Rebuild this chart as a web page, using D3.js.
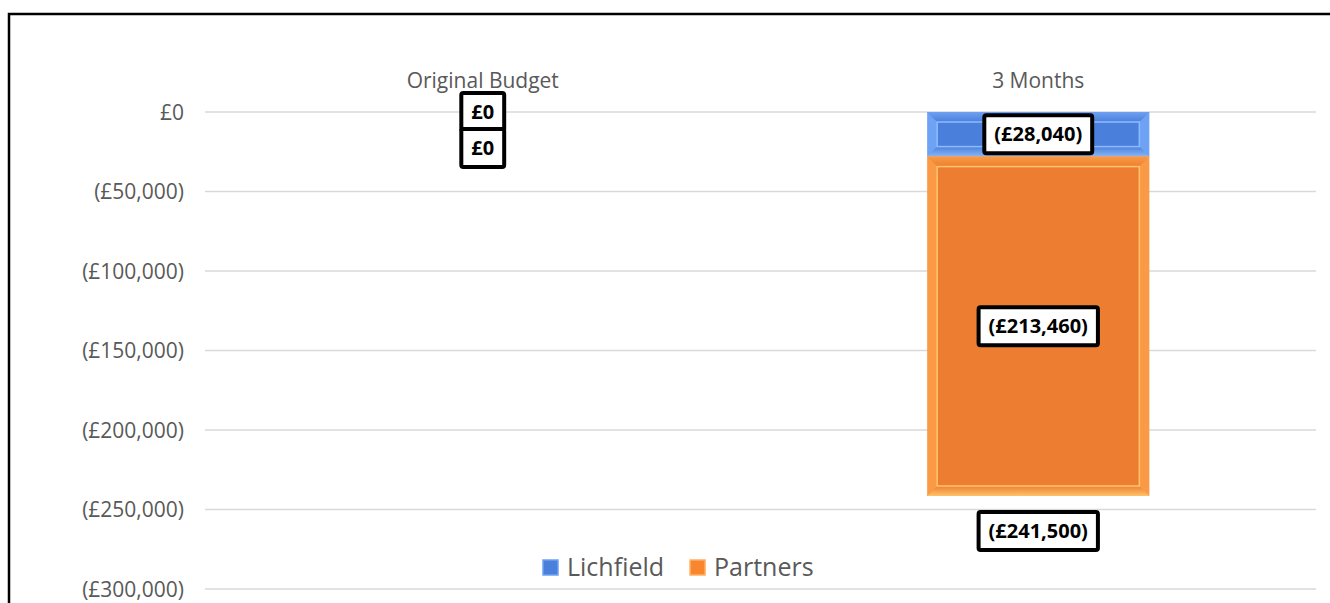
<!DOCTYPE html>
<html><head><meta charset="utf-8">
<script src="https://cdn.jsdelivr.net/npm/d3@7"></script>
<style>body{margin:0;background:#fff;}</style>
</head><body>
<svg id="c" width="1330" height="603"></svg>
<script>
const categories = ["Original Budget", "3 Months"];
const lichfield = [0, -28040];
const partners = [0, -213460];
const totals = [null, -241500];
const yTicks = [0, -50000, -100000, -150000, -200000, -250000, -300000];
const seriesNames = ["Lichfield", "Partners"];

const FONT = "'Open Sans','Noto Sans',sans-serif";
const svg = d3.select("#c");
const x = d3.scaleBand().domain(categories).range([205, 1316]).paddingInner(0).paddingOuter(0);
const y = d3.scaleLinear().domain([0, -300000]).range([112, 589]);
const fmt = v => v === 0 ? "£0" : (v < 0 ? "(£" + d3.format(",")(-v) + ")" : "£" + d3.format(",")(v));

// frame
svg.append("rect").attr("x", 9).attr("y", 14).attr("width", 1340).attr("height", 620)
  .attr("fill", "none").attr("stroke", "#000").attr("stroke-width", 2.5);

// gridlines
svg.append("g").selectAll("line").data(yTicks).join("line")
  .attr("x1", 205).attr("x2", 1316).attr("y1", d => y(d)).attr("y2", d => y(d))
  .attr("stroke", "#d9d9d9").attr("stroke-width", 1.5);

// y axis
const ya = svg.append("g").attr("transform", "translate(184,0)")
  .call(d3.axisLeft(y).tickValues(yTicks).tickSize(0).tickPadding(0).tickFormat(fmt));
ya.select(".domain").remove();
ya.selectAll("text").attr("fill", "#595959").attr("font-size", 21).attr("dy", "0.35em")
  .attr("font-family", FONT);

// x axis on top
const xa = svg.append("g").attr("transform", "translate(0,81)")
  .call(d3.axisTop(x).tickSize(0).tickPadding(0));
xa.select(".domain").remove();
xa.selectAll("text").attr("fill", "#595959").attr("font-size", 21).attr("dy", "0.35em")
  .attr("font-family", FONT);

// defs for bevel gradients
const defs = svg.append("defs");
function grad(id, c1, c2) {
  const g = defs.append("linearGradient").attr("id", id)
    .attr("x1", 0).attr("y1", 0).attr("x2", 0).attr("y2", 1);
  g.append("stop").attr("offset", "0%").attr("stop-color", c1);
  g.append("stop").attr("offset", "100%").attr("stop-color", c2);
}
grad("bT", "#6fa0f0", "#4a7fdc");
grad("bB", "#4a7fdc", "#8ab6f5");
grad("oT", "#f99a45", "#ee8030");
grad("oB", "#ee8030", "#ffc26a");

const bw = x.bandwidth() * 0.4;
const stacks = categories.map((c, i) => {
  const s = [];
  let acc = 0;
  [lichfield[i], partners[i]].forEach((v, k) => {
    s.push({cat: c, k, v, y0: acc, y1: acc + v});
    acc += v;
  });
  return s;
}).flat();

const fills = [{main: "#4a7fdc", edge: "#6ea2f5", hi: "#8ebbff", top: "url(#bT)", bot: "url(#bB)"},
               {main: "#ed7d31", edge: "#fb9a46", hi: "#ffc56e", top: "url(#oT)", bot: "url(#oB)"}];

const bars = svg.append("g");
stacks.filter(d => d.v !== 0).forEach(d => {
  const x0 = x(d.cat) + (x.bandwidth() - bw) / 2;
  const yt = y(d.y0), yb = y(d.y1);
  const h = yb - yt;
  const f = fills[d.k];
  const ins = Math.min(10, h / 4);
  const g = bars.append("g");
  g.append("rect").attr("x", x0).attr("y", yt).attr("width", bw).attr("height", h).attr("fill", f.edge);
  g.append("path").attr("d", `M${x0},${yt}L${x0+bw},${yt}L${x0+bw-ins},${yt+ins}L${x0+ins},${yt+ins}Z`).attr("fill", f.top);
  g.append("path").attr("d", `M${x0},${yb}L${x0+bw},${yb}L${x0+bw-ins},${yb-ins}L${x0+ins},${yb-ins}Z`).attr("fill", f.bot);
  g.append("rect").attr("x", x0 + ins).attr("y", yt + ins).attr("width", bw - 2 * ins).attr("height", h - 2 * ins)
    .attr("fill", f.main).attr("stroke", f.hi).attr("stroke-width", 1.5);
});

// labels
function label(cx, cy, text) {
  const g = svg.append("g");
  const t = g.append("text").attr("x", cx).attr("y", cy).attr("text-anchor", "middle").attr("dy", "0.36em")
    .attr("font-size", 20).attr("font-weight", "bold").attr("fill", "#000")
    .attr("font-family", FONT).text(text);
  const w = t.node().getComputedTextLength();
  const pw = 10, ph = 19;
  g.insert("rect", "text").attr("x", cx - w / 2 - pw).attr("y", cy - ph)
    .attr("width", w + 2 * pw).attr("height", 2 * ph).attr("rx", 2)
    .attr("fill", "#fff").attr("stroke", "#000").attr("stroke-width", 4);
}
categories.forEach((c, i) => {
  const cx = x(c) + x.bandwidth() / 2;
  const sl = stacks.filter(d => d.cat === c);
  if (sl.every(d => d.v === 0)) {
    label(cx, y(0), fmt(sl[0].v));
    label(cx, y(0) + 36, fmt(sl[1].v));
  } else {
    sl.forEach(d => label(cx, (y(d.y0) + y(d.y1)) / 2, fmt(d.v)));
  }
  if (totals[i] !== null) label(cx, y(totals[i]) + 35, fmt(totals[i]));
});

// legend
const lg = svg.append("g");
const items = [{n: seriesNames[0], c: "#4a7fdc", e: "#6ea2f5"}, {n: seriesNames[1], c: "#f7862f", e: "#ffb062"}];
let lx = 543;
items.forEach((it, i) => {
  lg.append("rect").attr("x", lx).attr("y", 560).attr("width", 15).attr("height", 15).attr("fill", it.c)
    .attr("stroke", it.e).attr("stroke-width", 1.5);
  const t = lg.append("text").attr("x", lx + 24).attr("y", 567).attr("dy", "0.35em").attr("font-size", 25)
    .attr("fill", "#595959").attr("font-family", FONT).text(it.n);
  lx += 24 + t.node().getComputedTextLength() + 26;
});
</script>
</body></html>
